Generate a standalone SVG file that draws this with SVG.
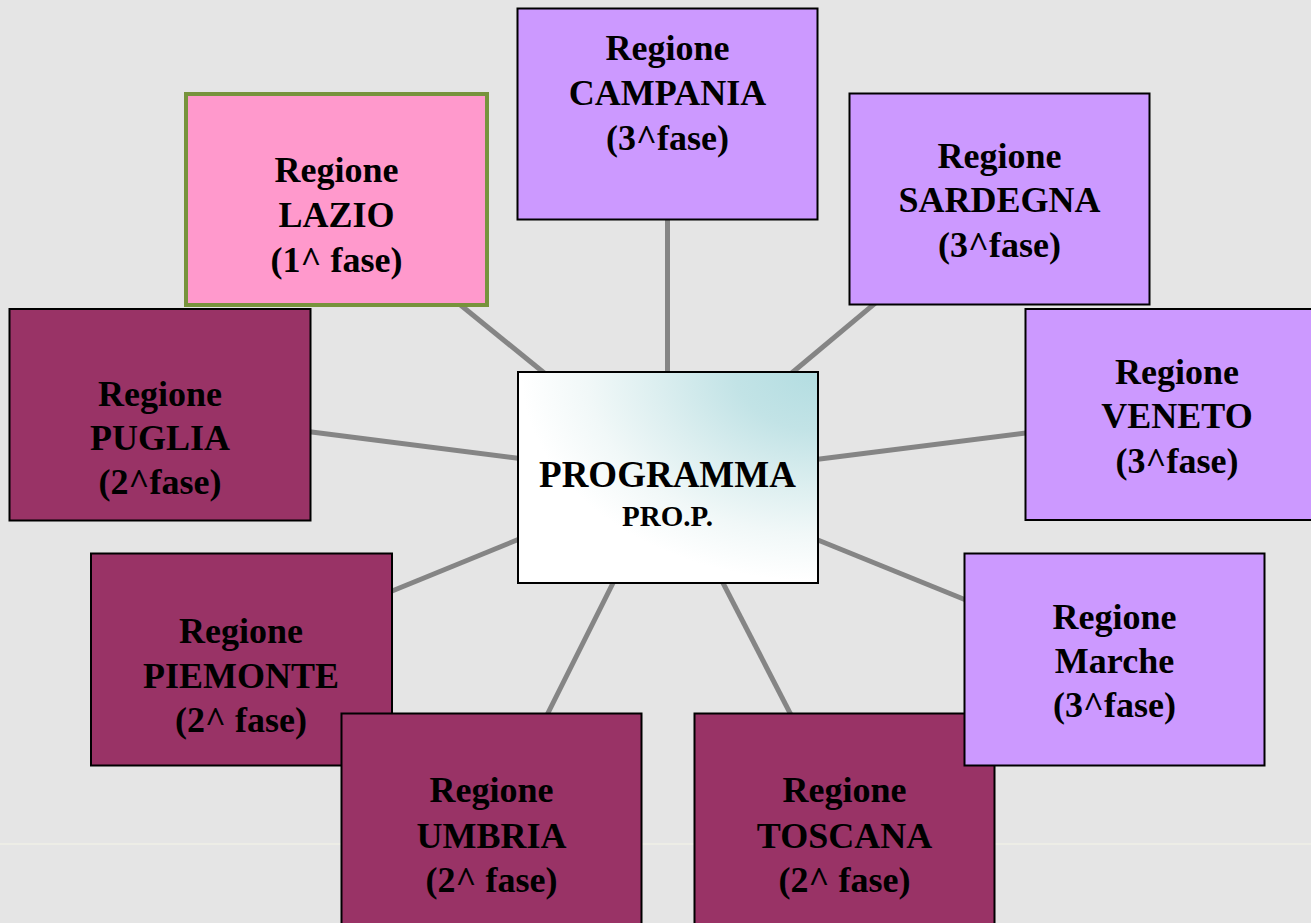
<svg xmlns="http://www.w3.org/2000/svg" width="1311" height="923" viewBox="0 0 1311 923">
<defs>
<radialGradient id="centerGrad" cx="1" cy="0" r="1.1" fx="1" fy="0">
<stop offset="0" stop-color="#b3dde1"/>
<stop offset="0.25" stop-color="#c2e3e6"/>
<stop offset="0.5" stop-color="#ddeff0"/>
<stop offset="0.7" stop-color="#f1f8f8"/>
<stop offset="0.9" stop-color="#ffffff"/>
<stop offset="1" stop-color="#ffffff"/>
</radialGradient>
</defs>
<style>
.bg{fill:#e5e5e5}
.conn{stroke:#858585;stroke-width:5;fill:none}
.box{stroke:#000;stroke-width:2}
.p3{fill:#cc99ff}
.p2{fill:#993366}
.p1{fill:#ff99cc;stroke:#77933c;stroke-width:4}
.t{font-family:"Liberation Serif","Times New Roman",serif;font-weight:bold;font-size:36px;fill:#000;text-anchor:middle}
.ts{font-size:29px}
</style>
<rect class="bg" x="0" y="0" width="1311" height="923"/>
<line x1="0" y1="844" x2="1311" y2="844" stroke="#efefe6" stroke-width="1.5"/>
<g id="connectors">
<line class="conn" x1="667.5" y1="200" x2="667.5" y2="400"/>
<line class="conn" x1="447" y1="294" x2="567" y2="391.5"/>
<line class="conn" x1="889" y1="291.6" x2="769" y2="392"/>
<line class="conn" x1="290" y1="429.3" x2="540" y2="461"/>
<line class="conn" x1="800" y1="461.5" x2="1045" y2="430.5"/>
<line class="conn" x1="370" y1="600" x2="540" y2="530.6"/>
<line class="conn" x1="800" y1="532.7" x2="985" y2="607.8"/>
<line class="conn" x1="623" y1="563" x2="538" y2="733"/>
<line class="conn" x1="713" y1="563.6" x2="800" y2="732.4"/>
</g>
<g id="node-campania">
<rect class="box p3" x="517.5" y="8.5" width="300" height="211"/>
<text class="t" x="667.5" y="60">Regione</text>
<text class="t" x="667.5" y="105">CAMPANIA</text>
<text class="t" x="667.5" y="150">(3^fase)</text>
</g>
<g id="node-lazio">
<rect class="p1" x="186" y="94" width="301" height="211"/>
<text class="t" x="336.5" y="182">Regione</text>
<text class="t" x="336.5" y="227">LAZIO</text>
<text class="t" x="336.5" y="272">(1^ fase)</text>
</g>
<g id="node-sardegna">
<rect class="box p3" x="849.5" y="93.5" width="300" height="211"/>
<text class="t" x="999.5" y="168">Regione</text>
<text class="t" x="999.5" y="212">SARDEGNA</text>
<text class="t" x="999.5" y="257">(3^fase)</text>
</g>
<g id="node-puglia">
<rect class="box p2" x="9.5" y="309" width="301" height="211.5"/>
<text class="t" x="160" y="406">Regione</text>
<text class="t" x="160" y="450">PUGLIA</text>
<text class="t" x="160" y="494">(2^fase)</text>
</g>
<g id="node-veneto">
<rect class="box p3" x="1025.5" y="309" width="300" height="211"/>
<text class="t" x="1177" y="384">Regione</text>
<text class="t" x="1177" y="428">VENETO</text>
<text class="t" x="1177" y="473">(3^fase)</text>
</g>
<g id="node-piemonte">
<rect class="box p2" x="91" y="553.5" width="301" height="212"/>
<text class="t" x="241" y="643">Regione</text>
<text class="t" x="241" y="688">PIEMONTE</text>
<text class="t" x="241" y="732">(2^ fase)</text>
</g>
<g id="node-umbria">
<rect class="box p2" x="341.5" y="713.5" width="300" height="220"/>
<text class="t" x="491.5" y="802">Regione</text>
<text class="t" x="491.5" y="848">UMBRIA</text>
<text class="t" x="491.5" y="892">(2^ fase)</text>
</g>
<g id="node-toscana">
<rect class="box p2" x="694.5" y="713.5" width="300" height="220"/>
<text class="t" x="844.5" y="802">Regione</text>
<text class="t" x="844.5" y="848">TOSCANA</text>
<text class="t" x="844.5" y="892">(2^ fase)</text>
</g>
<g id="node-marche">
<rect class="box p3" x="964.5" y="553.5" width="300" height="212"/>
<text class="t" x="1114.5" y="629">Regione</text>
<text class="t" x="1114.5" y="673">Marche</text>
<text class="t" x="1114.5" y="717">(3^fase)</text>
</g>
<g id="node-center">
<rect class="box" fill="url(#centerGrad)" x="518" y="372" width="300" height="211"/>
<text class="t" x="667.5" y="487" style="font-size:37px">PROGRAMMA</text>
<text class="t ts" x="667.5" y="526">PRO.P.</text>
</g>
</svg>
